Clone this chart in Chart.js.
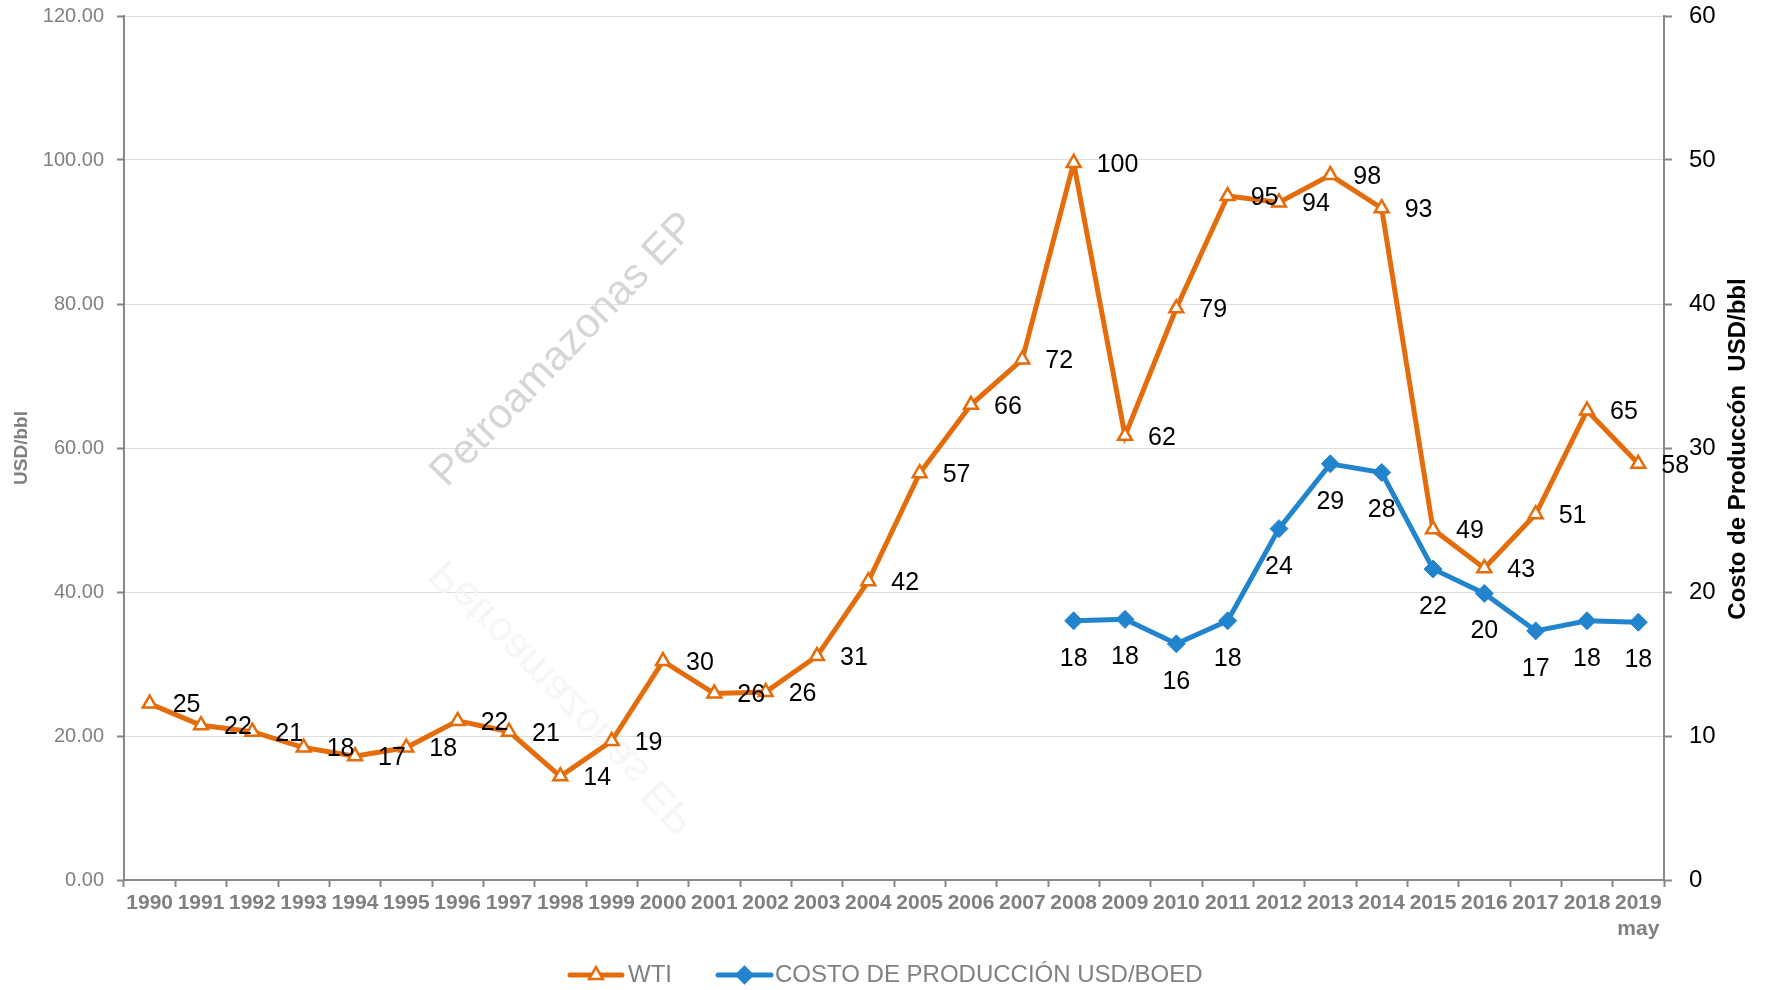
<!DOCTYPE html>
<html>
<head>
<meta charset="utf-8">
<script src="https://cdn.jsdelivr.net/npm/chart.js@4.4.1/dist/chart.umd.min.js"></script>
<style>
  html, body { margin: 0; padding: 0; background: #fff; }
  #wrap { width: 1770px; height: 990px; }
</style>
</head>
<body>
<div id="wrap"><canvas id="chart"></canvas></div>
<script>
// datos
const years = ['1990', '1991', '1992', '1993', '1994', '1995', '1996', '1997', '1998', '1999',
    '2000', '2001', '2002', '2003', '2004', '2005', '2006', '2007', '2008', '2009',
    '2010', '2011', '2012', '2013', '2014', '2015', '2016', '2017', '2018', ['2019', 'may']];
const wti = [24.5, 21.5, 20.6, 18.4, 17.2, 18.4, 22.1, 20.6, 14.4, 19.3,
    30.4, 25.9, 26.1, 31.1, 41.5, 56.5, 66.0, 72.3, 99.6, 61.7,
    79.4, 95.0, 94.1, 97.9, 93.3, 48.7, 43.3, 50.8, 65.2, 57.8];
const costo = [null, null, null, null, null, null, null, null, null, null,
    null, null, null, null, null, null, null, null, 18.0, 18.1,
    16.4, 18.0, 24.4, 28.9, 28.3, 21.6, 19.9, 17.3, 18.0, 17.9];
const leftTicks = [0, 20, 40, 60, 80, 100, 120];
const rightTicks = [0, 10, 20, 30, 40, 50, 60];

const ORANGE = '#E46C0A';
const BLUE = '#2384CE';
const GRAY = '#808080';
const FONT = "'Liberation Sans', Arial, sans-serif";

// marca de agua
const watermark = {
    id: 'watermark',
    beforeDatasetsDraw(chart) {
        const ctx = chart.ctx;
        const draw = (color) => {
            ctx.save();
            ctx.translate(564, 350);
            ctx.rotate(-46 * Math.PI / 180);
            ctx.font = '42px ' + FONT;
            ctx.fillStyle = color;
            ctx.textAlign = 'center';
            ctx.textBaseline = 'middle';
            ctx.fillText('Petroamazonas EP', 0, 0);
            ctx.restore();
        };
        draw('#d6d6d6');
        ctx.save();
        ctx.translate(0, 2 * 523);
        ctx.scale(1, -1);
        draw('#f6f6f6');
        ctx.restore();
    }
};

// etiquetas de valores
const valueLabels = {
    id: 'valueLabels',
    afterDatasetsDraw(chart) {
        const ctx = chart.ctx;
        ctx.save();
        ctx.font = '25px ' + FONT;
        ctx.fillStyle = '#000';
        chart.data.datasets.forEach((ds, i) => {
            const meta = chart.getDatasetMeta(i);
            meta.data.forEach((pt, j) => {
                const v = ds.data[j];
                if (v === null) return;
                const txt = String(Math.round(v));
                ctx.textBaseline = 'middle';
                if (i === 0) {
                    ctx.textAlign = 'left';
                    ctx.fillText(txt, pt.x + 23, pt.y + 2);
                } else {
                    ctx.textAlign = 'center';
                    ctx.fillText(txt, pt.x, pt.y + 38);
                }
            });
        });
        ctx.restore();
    }
};

// titulo eje derecho y leyenda
const extras = {
    id: 'extras',
    afterDraw(chart) {
        const ctx = chart.ctx;
        ctx.save();
        ctx.translate(1738, 449);
        ctx.rotate(-Math.PI / 2);
        ctx.font = 'bold 24px ' + FONT;
        ctx.fillStyle = '#000';
        ctx.textAlign = 'center';
        ctx.textBaseline = 'middle';
        ctx.fillText('Costo de Produccón  USD/bbl', 0, 0);
        ctx.restore();

        const y = 975;
        const items = [
            {x0: 570, x1: 622, color: ORANGE, style: 'triangle', r: 8, fill: '#fff', text: 'WTI', tx: 628},
            {x0: 718, x1: 771, color: BLUE, style: 'rectRot', r: 8, fill: BLUE, text: 'COSTO DE PRODUCCIÓN USD/BOED', tx: 775},
        ];
        items.forEach(it => {
            ctx.save();
            ctx.strokeStyle = it.color;
            ctx.lineWidth = 5;
            ctx.lineCap = 'round';
            ctx.beginPath();
            ctx.moveTo(it.x0, y);
            ctx.lineTo(it.x1, y);
            ctx.stroke();
            ctx.fillStyle = it.fill;
            ctx.lineWidth = 2.5;
            Chart.helpers.drawPoint(ctx, {pointStyle: it.style, radius: it.r, borderWidth: 2.5}, (it.x0 + it.x1) / 2, y);
            ctx.font = '24px ' + FONT;
            ctx.fillStyle = GRAY;
            ctx.textAlign = 'left';
            ctx.textBaseline = 'middle';
            ctx.fillText(it.text, it.tx, y);
            ctx.restore();
        });
    }
};

new Chart(document.getElementById('chart'), {
    type: 'line',
    data: {
        labels: years,
        datasets: [
            {
                label: 'WTI',
                data: wti,
                yAxisID: 'y',
                borderColor: ORANGE,
                borderWidth: 5,
                pointStyle: 'triangle',
                pointRadius: 8,
                pointBorderWidth: 2.5,
                pointBackgroundColor: '#fff',
                pointBorderColor: ORANGE,
                tension: 0,
            },
            {
                label: 'COSTO DE PRODUCCIÓN USD/BOED',
                data: costo,
                yAxisID: 'y2',
                borderColor: BLUE,
                borderWidth: 5,
                pointStyle: 'rectRot',
                pointRadius: 9,
                pointBorderWidth: 1,
                pointBackgroundColor: BLUE,
                pointBorderColor: BLUE,
                tension: 0,
            },
        ],
    },
    options: {
        responsive: true,
        maintainAspectRatio: false,
        animation: false,
        layout: {padding: 0},
        plugins: {
            legend: {display: false},
            tooltip: {enabled: false},
        },
        scales: {
            x: {
                offset: true,
                grid: {offset: true, drawOnChartArea: false, tickLength: 7, tickColor: '#888', tickWidth: 2},
                border: {color: '#888', width: 2},
                ticks: {
                    color: GRAY,
                    font: {family: FONT, size: 21, weight: 'bold', lineHeight: 1.2},
                    padding: 4,
                    maxRotation: 0,
                    autoSkip: false,
                },
                afterFit(scale) { scale.height = 110; },
            },
            y: {
                position: 'left',
                min: 0,
                max: 120,
                afterBuildTicks(scale) { scale.ticks = leftTicks.map(v => ({value: v})); },
                grid: {color: '#dedede', borderDash: [3, 3], tickColor: '#888', tickBorderDash: [], tickLength: 7, tickWidth: 2},
                border: {color: '#888', width: 2},
                ticks: {
                    color: GRAY,
                    font: {family: FONT, size: 20},
                    padding: 13,
                    callback: v => v.toFixed(2),
                },
                title: {
                    display: true,
                    text: 'USD/bbl',
                    color: GRAY,
                    font: {family: FONT, size: 19, weight: 'bold'},
                    padding: {top: 10, bottom: 0},
                },
                afterFit(scale) {
                    scale.width = 124;
                    scale.paddingTop = 16;
                    scale.paddingBottom = 0;
                },
            },
            y2: {
                position: 'right',
                min: 0,
                max: 60,
                afterBuildTicks(scale) { scale.ticks = rightTicks.map(v => ({value: v})); },
                grid: {drawOnChartArea: false, tickColor: '#888', tickLength: 8, tickWidth: 2},
                border: {color: '#888', width: 2},
                ticks: {
                    color: '#000',
                    font: {family: FONT, size: 24},
                    padding: 17,
                },
                afterFit(scale) {
                    scale.width = 106;
                    scale.paddingTop = 16;
                    scale.paddingBottom = 0;
                },
            },
        },
    },
    plugins: [watermark, valueLabels, extras],
});
</script>
</body>
</html>
